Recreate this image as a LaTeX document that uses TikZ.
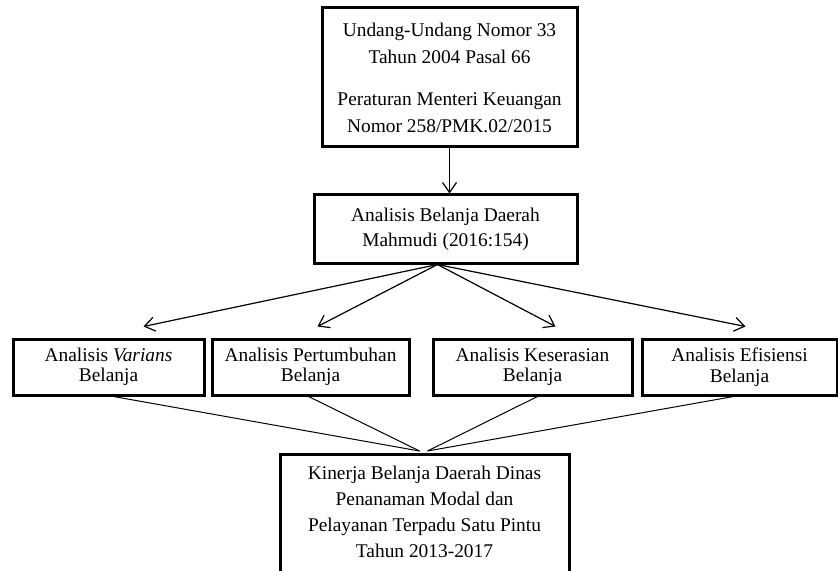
\documentclass[tikz,border=0pt]{standalone}
\usepackage{fontspec}
\setmainfont{Liberation Serif}
\usetikzlibrary{arrows.meta, positioning, calc}

\begin{document}
\begin{tikzpicture}[
      x=0.5pt, y=-0.5pt,
      box/.style={rectangle, draw, line width=1.5pt, align=center, inner sep=0pt,
        font=\fontsize{9.7}{13.5}\selectfont},
      part/.style={box, minimum height=28pt, font=\fontsize{9.7}{10.3}\selectfont},
      flow/.style={line width=0.6pt, -{Straight Barb[length=5pt, width=7pt, line width=0.6pt]}},
      link/.style={line width=0.5pt}
    ]
      \useasboundingbox (0,0) rectangle (838,571);

      \node[box, minimum width=127.5pt, minimum height=69.5pt] (law) at (449.5,77.5)
        {Undang-Undang Nomor 33\\Tahun 2004 Pasal 66\\[7.5pt]Peraturan Menteri Keuangan\\Nomor 258/PMK.02/2015};
      \node[box, minimum width=131.5pt, minimum height=34pt,
        font=\fontsize{9.7}{12.5}\selectfont] (ana) at (445.5,229)
        {Analisis Belanja Daerah\\Mahmudi (2016:154)};

      \node[part, minimum width=95.5pt] (var) at (108.5,367) {Analisis \textit{Varians}\\Belanja};
      \node[part, minimum width=98.5pt] (grow) at (310.5,367) {Analisis Pertumbuhan\\Belanja};
      \node[part, minimum width=99.5pt] (sel) at (532.5,367) {Analisis Keserasian\\Belanja};
      \node[part, minimum width=97.5pt] (eff) at (739.5,367) {Analisis Efisiensi\\Belanja};

      \node[box, anchor=north, minimum width=144.5pt, inner ysep=6pt, text depth=14pt,
        font=\fontsize{9.7}{13}\selectfont] (kin) at (424.5,453)
        {Kinerja Belanja Daerah Dinas\\Penanaman Modal dan\\Pelayanan Terpadu Satu Pintu\\Tahun 2013-2017};

      \draw[flow] (law.south) -- (law.south |- ana.north);

      \coordinate (fan) at ($(ana.south)+(-8,0)$);
      \foreach \b/\dx in {var/35, grow/7, sel/23, eff/6} {
        \coordinate (\b-in) at ($(\b.north)+(\dx,-11)$);
        \draw[flow] (fan) -- (\b-in);
      }

      \coordinate (kl) at ($(kin.north)+(-5,-2)$);
      \coordinate (kr) at ($(kin.north)+(3,-2)$);
      \foreach \b/\dx in {var/5, grow/-2} \draw[link] ($(\b.south)+(\dx,0)$) -- (kl);
      \foreach \b/\dx in {sel/5, eff/-6} \draw[link] ($(\b.south)+(\dx,0)$) -- (kr);
    \end{tikzpicture}
\end{document}
